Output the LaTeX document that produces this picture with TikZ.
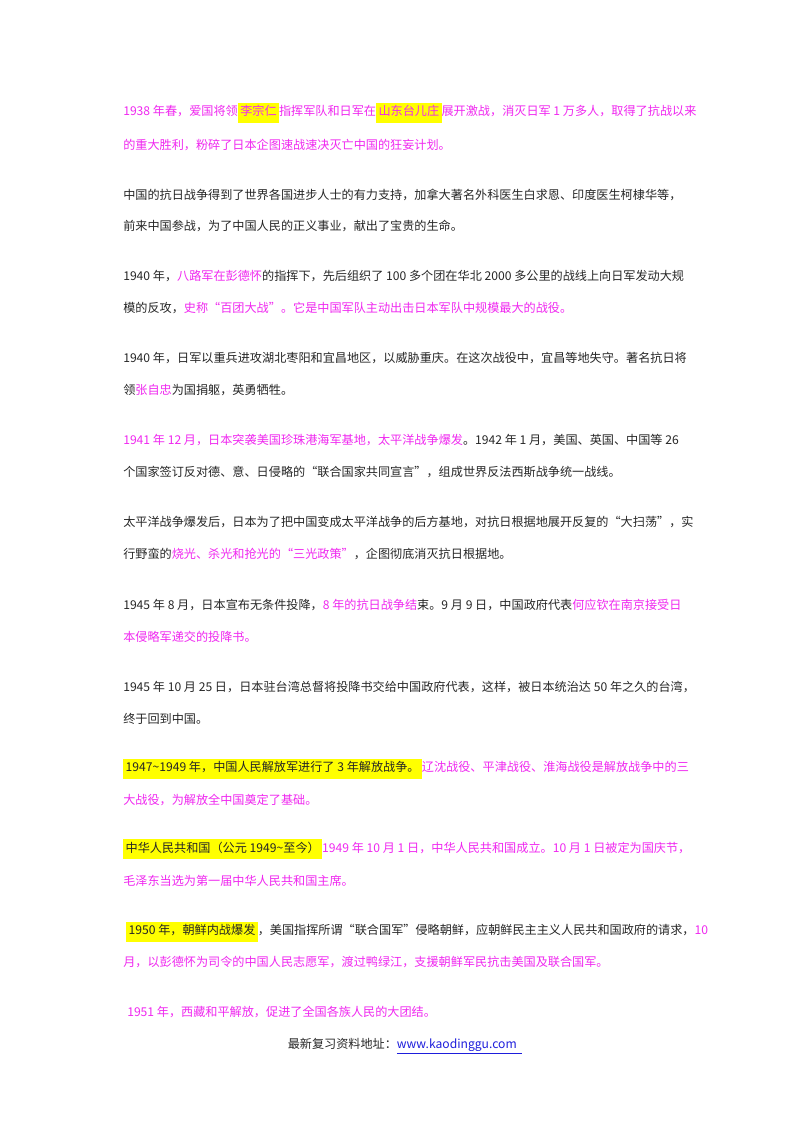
\documentclass[tikz,border=0pt]{standalone}
\usepackage{fontspec}
\setmainfont{Liberation Serif}
\newfontfamily\cjk{Noto Sans CJK SC}
\definecolor{mag}{RGB}{240,40,240}
\definecolor{hly}{RGB}{255,255,0}
\definecolor{lnk}{RGB}{30,30,220}
\newcommand{\hlt}[1]{{\setlength{\fboxsep}{1.8pt}\colorbox{hly}{\strut #1}}}
\newcommand{\mg}[1]{\textcolor{mag}{#1}}
\begin{document}
\begin{tikzpicture}[x=0.75pt,y=-0.75pt,
  ln/.style={anchor=west,inner sep=0pt,font=\cjk\fontsize{9.1pt}{11pt}\selectfont,text=black!85}]
\useasboundingbox[fill=white] (0,0) rectangle (800,1132);
\node[ln] (l1) at (123,113) {\mg{1938 年春，爱国将领}\hlt{\mg{李宗仁}}\mg{指挥军队和日军在}\hlt{\mg{山东台儿庄}}\mg{展开激战，消灭日军 1 万多人，取得了抗战以来}};
\node[ln] (l2) at (123,145) {\mg{的重大胜利，粉碎了日本企图速战速决灭亡中国的狂妄计划。}};
\node[ln] (l3) at (123,195) {中国的抗日战争得到了世界各国进步人士的有力支持，加拿大著名外科医生白求恩、印度医生柯棣华等，};
\node[ln] (l4) at (123,226) {前来中国参战，为了中国人民的正义事业，献出了宝贵的生命。};
\node[ln] (l5) at (123,276) {1940 年，\mg{八路军在彭德怀}的指挥下，先后组织了 100 多个团在华北 2000 多公里的战线上向日军发动大规};
\node[ln] (l6) at (123,308) {模的反攻，\mg{史称“百团大战”。它是中国军队主动出击日本军队中规模最大的战役。}};
\node[ln] (l7) at (123,358) {1940 年，日军以重兵进攻湖北枣阳和宜昌地区，以威胁重庆。在这次战役中，宜昌等地失守。著名抗日将};
\node[ln] (l8) at (123,390) {领\mg{张自忠}为国捐躯，英勇牺牲。};
\node[ln] (l9) at (123,440) {\mg{1941 年 12 月，日本突袭美国珍珠港海军基地，太平洋战争爆发}。1942 年 1 月，美国、英国、中国等 26};
\node[ln] (l10) at (123,472) {个国家签订反对德、意、日侵略的“联合国家共同宣言”，组成世界反法西斯战争统一战线。};
\node[ln] (l11) at (123,522) {太平洋战争爆发后，日本为了把中国变成太平洋战争的后方基地，对抗日根据地展开反复的“大扫荡”，实};
\node[ln] (l12) at (123,554) {行野蛮的\mg{烧光、杀光和抢光的“三光政策”}，企图彻底消灭抗日根据地。};
\node[ln] (l13) at (123,605) {1945 年 8 月，日本宣布无条件投降，\mg{8 年的抗日战争结}束。9 月 9 日，中国政府代表\mg{何应钦在南京接受日}};
\node[ln] (l14) at (123,637) {\mg{本侵略军递交的投降书。}};
\node[ln] (l15) at (123,687) {1945 年 10 月 25 日，日本驻台湾总督将投降书交给中国政府代表，这样，被日本统治达 50 年之久的台湾，};
\node[ln] (l16) at (123,719) {终于回到中国。};
\node[ln] (l17) at (123,769) {\hlt{1947\textasciitilde 1949 年，中国人民解放军进行了 3 年解放战争。}\mg{辽沈战役、平津战役、淮海战役是解放战争中的三}};
\node[ln] (l18) at (123,800) {\mg{大战役，为解放全中国奠定了基础。}};
\node[ln] (l19) at (123,849) {\hlt{中华人民共和国（公元 1949\textasciitilde 至今）}\mg{1949 年 10 月 1 日，中华人民共和国成立。10 月 1 日被定为国庆节，}};
\node[ln] (l20) at (123,881) {\mg{毛泽东当选为第一届中华人民共和国主席。}};
\node[ln] (l21) at (126,932) {\hlt{1950 年，朝鲜内战爆发}，美国指挥所谓“联合国军”侵略朝鲜，应朝鲜民主主义人民共和国政府的请求，\mg{10}};
\node[ln] (l22) at (123,962) {\mg{月，以彭德怀为司令的中国人民志愿军，渡过鸭绿江，支援朝鲜军民抗击美国及联合国军。}};
\node[ln] (l23) at (127,1012) {\mg{1951 年，西藏和平解放，促进了全国各族人民的大团结。}};
\node[ln,anchor=center] (ft) at (405,1046) {最新复习资料地址：\textcolor{lnk}{\underline{www.kaodinggu.com\ \ }}};
\end{tikzpicture}
\end{document}
